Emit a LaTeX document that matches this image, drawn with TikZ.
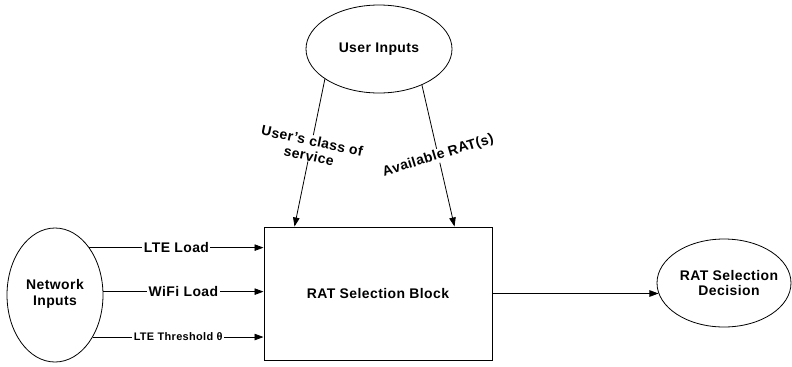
\documentclass[tikz,border=0pt]{standalone}
\usepackage{fontspec}
\setmainfont{Liberation Sans}[LetterSpace=3]
\usetikzlibrary{shapes.geometric,arrows.meta}
\begin{document}
\begin{tikzpicture}[x=1bp,y=-1bp,
  every node/.style={font=\fontsize{14}{15.5}\selectfont\bfseries},
  oval/.style={draw,ellipse,line width=0.8bp,inner sep=0pt},
  txt/.style={align=center,inner sep=0pt},
  blockbox/.style={draw,rectangle,line width=1bp,minimum width=228bp,minimum height=133bp,inner sep=0pt},
  conn/.style={line width=0.8bp,-{Triangle[length=9bp,width=6.5bp]}},
  lbl/.style={fill=white,inner sep=1.5bp},
  smalllbl/.style={fill=white,inner sep=1.5bp,font=\fontsize{11}{12}\selectfont\bfseries}]
\useasboundingbox (0,0) rectangle (792,366);
\node[oval,minimum width=146bp,minimum height=88bp] (user) at (379,49) {};
\node[txt] (usertext) at (379,49) {User Inputs};
\node[oval,minimum width=96bp,minimum height=134bp] (net) at (55,295) {};
\node[txt] (nettext) at (55,294) {Network\\Inputs};
\node[oval,minimum width=134bp,minimum height=88bp] (dec) at (724,283) {};
\node[txt] (dectext) at (729,283) {RAT Selection\\Decision};
\node[blockbox] (block) at (378,293.5) {RAT Selection Block};
\draw[conn] (user.209) -- node[lbl,align=center,rotate=-12,pos=0.47,inner sep=0.5bp] (lab1) {User's class of\\service} ([xshift=31bp]block.north west);
\draw[conn] (user.320) -- node[lbl,rotate=17,pos=0.5,inner sep=0.5bp] (lab2) {Available RAT(s)} ([xshift=191bp]block.north west);
\draw[conn] (net.54) -- node[lbl] (lab3) {LTE Load} (net.54 -| block.west);
\draw[conn] (net.4) -- node[lbl] (lab4) {WiFi Load} (net.4 -| block.west);
\draw[conn] (net.312) -- node[smalllbl] (lab5) {LTE Threshold θ} (net.312 -| block.west);
\draw[conn] (block.east) -- (block.east -| dec.189);
\end{tikzpicture}
\end{document}
